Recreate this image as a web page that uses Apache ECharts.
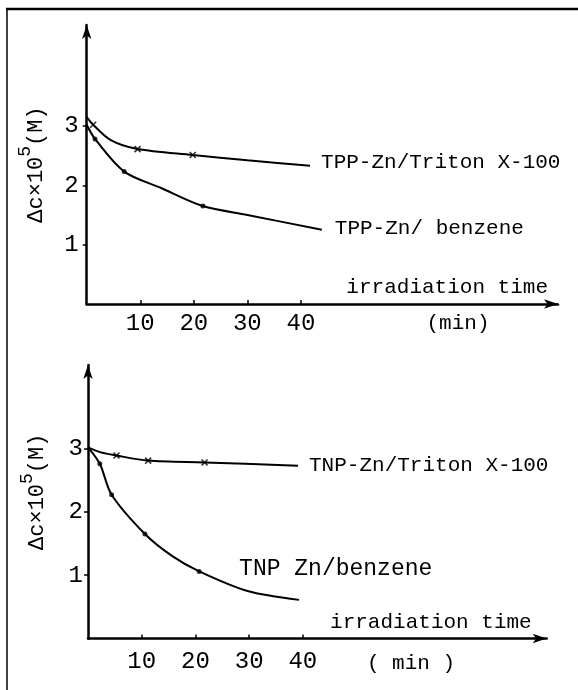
<!DOCTYPE html>
<html>
<head>
<meta charset="utf-8">
<script src="https://cdn.jsdelivr.net/npm/echarts@6/dist/echarts.min.js"></script>
<style>
  html, body { margin: 0; padding: 0; background: #fff; }
  #chart { width: 578px; height: 690px; }
</style>
</head>
<body>
<div id="chart"></div>
<script>
// axis ticks (min on x, 10^-5 M on y)
const xTicks = [10, 20, 30, 40]
const yTicks = [1, 2, 3]

// upper panel: TPP-Zn, curve points, marks = plotted points
const tppTritonCurve = [[0, 3.15], [1.2, 3.02], [4.5, 2.76], [9.5, 2.61], [19.8, 2.51], [30, 2.42], [41.7, 2.33]]
const tppTritonMarks = [[1.2, 3.02], [9.5, 2.61], [19.8, 2.51]]
const tppBenzeneCurve = [[0, 3.02], [1.55, 2.78], [7, 2.23], [14, 1.95], [21.7, 1.65], [30, 1.5], [43.9, 1.25]]
const tppBenzeneMarks = [[1.55, 2.78], [7, 2.23], [21.7, 1.65]]

// lower panel: TNP-Zn
const tnpTritonCurve = [[0, 3.02], [2.4, 2.94], [5.3, 2.89], [11.2, 2.81], [21.7, 2.78], [39.1, 2.73]]
const tnpTritonMarks = [[5.3, 2.89], [11.2, 2.81], [21.7, 2.78]]
const tnpBenzeneCurve = [[0, 3.02], [2.2, 2.76], [4.4, 2.27], [10.6, 1.65], [15.7, 1.3], [20.7, 1.06], [29.7, 0.75], [39.3, 0.61]]
const tnpBenzeneMarks = [[2.2, 2.76], [4.4, 2.27], [10.6, 1.65], [20.7, 1.06]]

const FONT = '"Liberation Mono", "DejaVu Sans Mono", monospace'
const INK = '#000'

const yName = '{a|Δc×10}{s|5}{a|(M)}'

function xAxisOf(grid, max, labelMargin, nameGap) {
  return {
    type: 'value', gridIndex: grid, min: 0, max: max,
    splitLine: { show: false },
    axisLine: { lineStyle: { color: INK, width: 2.5 }, symbol: ['none', 'arrow'], symbolSize: [7, 14] },
    axisTick: { customValues: xTicks, inside: true, length: 4, lineStyle: { color: INK, width: 1.5 } },
    axisLabel: { customValues: xTicks, margin: labelMargin, color: INK, fontFamily: FONT, fontSize: 24 },
    name: 'irradiation time',
    nameLocation: 'end',
    nameGap: nameGap,
    nameTextStyle: { align: 'right', verticalAlign: 'bottom', padding: [0, 0, 6, 0], color: INK, fontFamily: FONT, fontSize: 21 },
  }
}

function yAxisOf(grid, max, labelMargin, nameGap, namePad) {
  return {
    type: 'value', gridIndex: grid, min: 0, max: max,
    splitLine: { show: false },
    axisLine: { lineStyle: { color: INK, width: 2.5 }, symbol: ['none', 'arrow'], symbolSize: [7, 14] },
    axisTick: { customValues: yTicks, length: 4, lineStyle: { color: INK, width: 1.5 } },
    axisLabel: { customValues: yTicks, margin: labelMargin, color: INK, fontFamily: FONT, fontSize: 24 },
    name: yName,
    nameLocation: 'middle',
    nameGap: nameGap,
    nameTextStyle: {
      padding: namePad,
      rich: {
        a: { fontFamily: FONT, fontSize: 22, color: INK, lineHeight: 30, verticalAlign: 'bottom' },
        s: { fontFamily: FONT, fontSize: 18, color: INK, lineHeight: 30, verticalAlign: 'top' },
      },
    },
  }
}

function curve(name, data, idx, label, labelOpt) {
  return {
    name: name, type: 'line', xAxisIndex: idx, yAxisIndex: idx,
    data: data, smooth: 0.3, showSymbol: false,
    lineStyle: { color: INK, width: 2 },
    endLabel: Object.assign({
      show: true, formatter: label, color: INK, fontFamily: FONT, fontSize: 21,
    }, labelOpt),
    z: 3,
  }
}

function marks(name, data, idx, cross) {
  return {
    name: name, type: 'scatter', xAxisIndex: idx, yAxisIndex: idx, data: data,
    symbol: cross ? 'path://M0,0L10,10M10,0L0,10' : 'circle',
    symbolSize: cross ? 6 : 5,
    itemStyle: cross
      ? { color: 'transparent', borderColor: INK, borderWidth: 1.6 }
      : { color: INK },
    z: 4,
  }
}

const chart = echarts.init(document.getElementById('chart'))
chart.setOption({
  animation: false,
  backgroundColor: '#fff',
  grid: [
    { left: 86.7, top: 25, width: 471.3, height: 279 },
    { left: 88, top: 365, width: 458.7, height: 273.5 },
  ],
  xAxis: [xAxisOf(0, 88, 8, -10), xAxisOf(1, 85.4, 11, -15)],
  yAxis: [yAxisOf(0, 4.7, 8, 40, [0, 0, 0, 0]), yAxisOf(1, 4.32, 5, 40, [0, 0, 0, 20])],
  series: [
    curve('tppTriton', tppTritonCurve, 0, 'TPP-Zn/Triton X-100', { distance: 11, offset: [0, -3] }),
    curve('tppBenzene', tppBenzeneCurve, 0, 'TPP-Zn/ benzene', { distance: 13, offset: [0, -1] }),
    marks('tppTritonMarks', tppTritonMarks, 0, true),
    marks('tppBenzeneMarks', tppBenzeneMarks, 0, false),
    curve('tnpTriton', tnpTritonCurve, 1, 'TNP-Zn/Triton X-100', { distance: 11 }),
    curve('tnpBenzene', tnpBenzeneCurve, 1, 'TNP Zn/benzene', { distance: 0, offset: [-60, -31], fontSize: 23 }),
    marks('tnpTritonMarks', tnpTritonMarks, 1, true),
    marks('tnpBenzeneMarks', tnpBenzeneMarks, 1, false),
  ],
  graphic: [
    // scanned page frame
    { type: 'line', shape: { x1: 6, y1: 9, x2: 578, y2: 9 }, style: { stroke: INK, lineWidth: 2.5 } },
    { type: 'line', shape: { x1: 7, y1: 8, x2: 7, y2: 690 }, style: { stroke: INK, lineWidth: 1.5 } },
    // unit under each time axis
    { type: 'text', x: 458, y: 323, style: { text: '(min)', fill: INK, font: '21px ' + FONT, align: 'center', verticalAlign: 'middle' } },
    { type: 'text', x: 411, y: 663, style: { text: '( min )', fill: INK, font: '21px ' + FONT, align: 'center', verticalAlign: 'middle' } },
  ],
})
</script>
</body>
</html>
